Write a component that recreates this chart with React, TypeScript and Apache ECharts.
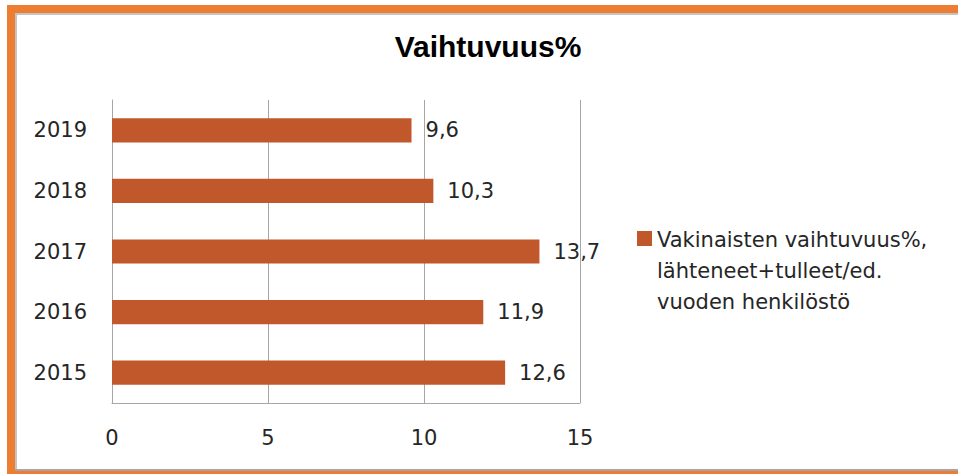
import React, { useEffect, useRef } from "react";
import * as echarts from "echarts";

const titleText = "Vaihtuvuus%";
const categories = ["2015", "2016", "2017", "2018", "2019"];
const values = [12.6, 11.9, 13.7, 10.3, 9.6];
const seriesName = "Vakinaisten vaihtuvuus%, lähteneet+tulleet/ed. vuoden henkilöstö";
const legendLines = ["Vakinaisten vaihtuvuus%,", "lähteneet+tulleet/ed.", "vuoden henkilöstö"];
const xTicks = { min: 0, max: 15, interval: 5 };

const FONT = "'DejaVu Sans', 'Open Sans', sans-serif";

export default function App() {
  const ref = useRef<HTMLDivElement>(null);
  useEffect(() => {
    if (!ref.current) return;
    const chart = echarts.init(ref.current, null, { renderer: "svg" });
    chart.setOption({
      animation: false,
      backgroundColor: "#ffffff",
      title: {
        text: titleText,
        left: 488,
        top: 31,
        padding: 0,
        textAlign: "center",
        textStyle: {
          fontFamily: "'Liberation Sans', Arial, sans-serif",
          fontWeight: "bold",
          fontSize: 30,
          color: "#000000",
        },
      },
      grid: { left: 112, right: 378, top: 100, bottom: 71, containLabel: false },
      xAxis: {
        type: "value",
        min: xTicks.min,
        max: xTicks.max,
        interval: xTicks.interval,
        axisLine: { show: true, lineStyle: { color: "#a6a6a6", width: 1 } },
        axisTick: { show: false },
        splitLine: { show: true, lineStyle: { color: "#a6a6a6", width: 1 } },
        axisLabel: { margin: 24, fontFamily: FONT, fontSize: 21, color: "#262626" },
      },
      yAxis: {
        type: "category",
        data: categories,
        axisLine: { show: true, lineStyle: { color: "#a6a6a6", width: 1 } },
        axisTick: { show: false },
        axisLabel: { margin: 25, fontFamily: FONT, fontSize: 21, color: "#262626" },
      },
      legend: {
        show: true,
        orient: "vertical",
        left: 637,
        top: 224,
        padding: 0,
        itemWidth: 15,
        itemHeight: 93,
        icon: "path://M0,0M0,7L15,7L15,22L0,22ZM0,93",
        formatter: () => legendLines.join("\n"),
        textStyle: { fontFamily: FONT, fontSize: 21, lineHeight: 31, color: "#262626" },
        data: [seriesName],
      },
      series: [
        {
          type: "bar",
          name: seriesName,
          data: values,
          barWidth: "40%",
          itemStyle: { color: "#c0582c" },
          label: {
            show: true,
            position: "right",
            distance: 14,
            fontFamily: FONT,
            fontSize: 21,
            color: "#262626",
            formatter: (p: any) => String(p.value).replace(".", ","),
          },
        },
      ],
      graphic: [
        { type: "rect", left: 7, top: 5, shape: { width: 951, height: 8 }, style: { fill: "#ed7d31" } },
        { type: "rect", left: 15, top: 13, shape: { width: 943, height: 2 }, style: { fill: "#c4c4c4" } },
        { type: "rect", left: 7, top: 5, shape: { width: 8, height: 469 }, style: { fill: "#ed7d31" } },
        { type: "rect", left: 15, top: 13, shape: { width: 2, height: 456 }, style: { fill: "#c4c4c4" } },
        { type: "rect", left: 15, top: 469, shape: { width: 943, height: 2 }, style: { fill: "#a6a6a6" } },
        { type: "rect", left: 15, top: 471, shape: { width: 943, height: 3 }, style: { fill: "#ed7d31" } },
      ],
    });
    return () => chart.dispose();
  }, []);
  return (
    <div
      ref={ref}
      style={{ position: "absolute", left: 0, top: 0, width: 958, height: 474 }}
    />
  );
}
